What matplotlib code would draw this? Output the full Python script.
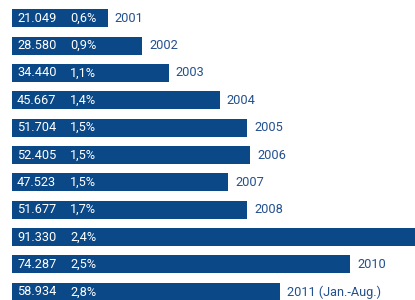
import matplotlib
matplotlib.use("Agg")
from matplotlib import pyplot as plt
import matplotlib.transforms as mtransforms

# datos
anios = ["2001", "2002", "2003", "2004", "2005", "2006", "2007", "2008", "2009", "2010", "2011 (Jan.-Aug.)"]
valores = [21049, 28580, 34440, 45667, 51704, 52405, 47523, 51677, 91330, 74287, 58934]
etiquetas_valor = ["21.049", "28.580", "34.440", "45.667", "51.704", "52.405", "47.523", "51.677", "91.330", "74.287", "58.934"]
porcentajes = ["0,6%", "0,9%", "1,1%", "1,4%", "1,5%", "1,5%", "1,5%", "1,7%", "2,4%", "2,5%", "2,8%"]

azul = "#0b4887"
azul_texto = "#24508f"

plt.rcParams['font.family'] = ['Roboto', 'DejaVu Sans']

fig = plt.figure(figsize=(4.15, 3.0), dpi=100)
ax = fig.add_axes([0, 0, 1, 1])

pos = list(range(len(valores)))
ax.barh(pos, valores, height=0.66, color=azul, left=0)

# escala: 0 en x=12px, 0.00455 px por unidad
xmax = (415 - 12) / 0.00455
ax.set_xlim(-12 / 0.00455, xmax)
ax.set_ylim((300 - 18.3) / 27.35, -18.3 / 27.35)
ax.axis("off")

trans = mtransforms.blended_transform_factory(ax.transAxes, ax.transData)
for i in pos:
    ax.text(17 / 415, i, etiquetas_valor[i], transform=trans, color="white",
            fontsize=9.2, va="center", ha="left")
    ax.text(70 / 415, i, porcentajes[i], transform=trans, color="white",
            fontsize=9.2, va="center", ha="left")
    # la etiqueta de 2009 queda fuera del dibujo
    if valores[i] < xmax:
        ax.annotate(anios[i], xy=(valores[i], i), xytext=(5, 0), textcoords="offset points",
                    color=azul_texto, fontsize=9.2, va="center", ha="left",
                    annotation_clip=False)

fig.savefig("out.png", dpi=100)
